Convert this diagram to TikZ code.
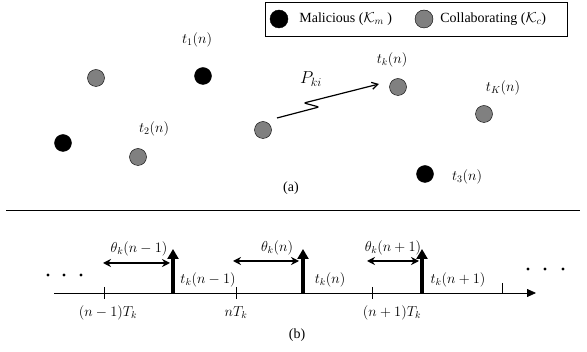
\documentclass[tikz,border=0pt]{standalone}
\usepackage{amsmath}
\usepackage{fontspec}
\setmainfont{Liberation Serif}
\usetikzlibrary{arrows.meta,positioning}

\begin{document}
\begin{tikzpicture}[
  x=1pt, y=-1pt,
  font=\fontsize{14}{16}\selectfont,
  mal/.style={draw, circle, fill=black, minimum size=17pt, inner sep=0pt},
  col/.style={draw, circle, fill=gray, minimum size=17pt, inner sep=0pt},
  pulse/.style={line width=4pt, -{Triangle[length=10pt,width=11pt]}},
  span/.style={line width=1.2pt, {Stealth[length=8pt,width=8pt]}-{Stealth[length=8pt,width=8pt]}}
]
\useasboundingbox (0,0) rectangle (587,352);

% legend
\draw (265,2) rectangle (567,36);
\node[mal, minimum size=18pt] (lm) at (279,19) {};
\node[right=10pt of lm, inner sep=1pt] (lmt) {Malicious ($\mathcal{K}_m$ )};
\node[col, minimum size=18pt] (lc) at (424,19) {};
\node[right=6pt of lc, inner sep=1pt] (lct) {Collaborating ($\mathcal{K}_c$)};

% (a) nodes in the plane
\node[col] (c1) at (96,78) {};
\node[mal] (m1) at (203,76) {};
\node[mal] (m2) at (63,143) {};
\node[col] (c2) at (138,157) {};
\node[col] (ci) at (263,130) {};
\node[col] (ck) at (398,87) {};
\node[col] (cK) at (484,114) {};
\node[mal] (m3) at (425,174) {};
\node (t1) at (197,40) {$t_1(n)$};
\node (t2) at (154,129) {$t_2(n)$};
\node (tk) at (392,60) {$t_k(n)$};
\node (tK) at (503,88) {$t_K(n)$};
\node (t3) at (467,177) {$t_3(n)$};
\node[font=\fontsize{18}{20}\selectfont] (pki) at (311,79) {$P_{ki}$};
\coordinate (zs) at (277,118);
\coordinate (ze) at (379,84);
\draw[line width=1.2pt, rounded corners=2pt, -{Straight Barb[length=6pt,width=7pt]}]
  (zs) -- (319,107) -- (304,103) -- (ze);
\node (capa) at (291,188) {(a)};

\draw (6,210) -- (580,210);

% (b) time axis
\coordinate (axs) at (54,293);
\coordinate (axe) at (536,293);
\draw[line width=0.8pt, -{Triangle[length=9pt,width=8pt]}] (axs) -- (axe);
\foreach \x in {104,236,372} \draw (\x,287) -- (\x,299);
\draw (502,283) -- (502,293);
\foreach \x in {48,64,81} \fill (\x,275) circle (1.7);
\foreach \x in {528,545,563} \fill (\x,269) circle (1.7);

\draw[pulse] (173,293) -- (173,249);
\draw[pulse] (303,293) -- (303,249);
\draw[pulse] (422,293) -- (422,249);

\coordinate (a1) at (103,263);
\coordinate (b1) at (170,263);
\coordinate (a2) at (233,261);
\coordinate (b2) at (299,261);
\coordinate (a3) at (367,261);
\coordinate (b3) at (419,261);
\draw[span] (a1) -- (b1);
\draw[span] (a2) -- (b2);
\draw[span] (a3) -- (b3);
\node (th1) at (139,249) {$\theta_k(n-1)$};
\node (th2) at (277,248) {$\theta_k(n)$};
\node (th3) at (393,248) {$\theta_k(n+1)$};
\node (tt1) at (208,280) {$t_k(n-1)$};
\node (tt2) at (330,280) {$t_k(n)$};
\node (tt3) at (458,280) {$t_k(n+1)$};
\node (nT1) at (108,313) {$(n-1)T_k$};
\node (nT2) at (236,313) {$nT_k$};
\node (nT3) at (392,313) {$(n+1)T_k$};
\node (capb) at (297,335) {(b)};
\end{tikzpicture}
\end{document}
